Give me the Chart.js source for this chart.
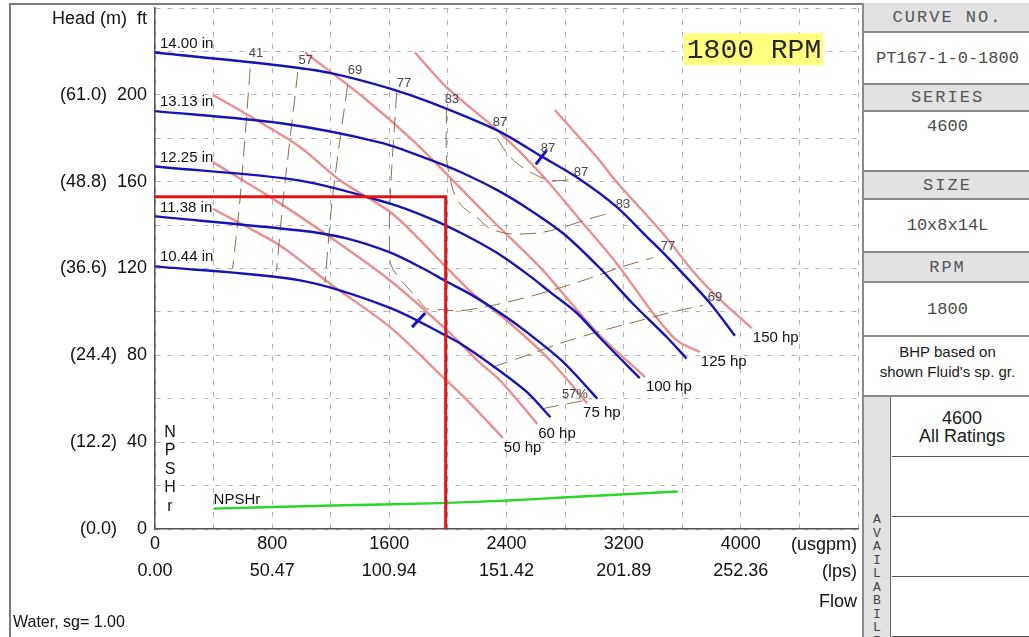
<!DOCTYPE html>
<html lang="en">
<head>
<meta charset="UTF-8">
<title>Pump Curve 4600 10x8x14L 1800 RPM</title>
<script src="https://cdn.jsdelivr.net/npm/chart.js"></script>
<style>
  html, body { margin: 0; padding: 0; background: #fff; }
  #page { position: relative; width: 1029px; height: 637px; overflow: hidden;
          font-family: "Liberation Sans", Arial, sans-serif; }
  #curve { position: absolute; left: 0; top: 0; }
  #frame { position: absolute; left: 9px; top: 3px; width: 1040px; height: 660px;
           border-left: 2px solid #7c7c7c; border-top: 2px solid #7c7c7c; pointer-events: none; }
  #side { position: absolute; left: 862px; top: 3px; width: 180px; height: 640px;
          border-left: 2px solid #8a8a8a; background: #fff; }
  .cell { position: absolute; left: 0; width: 167px; box-sizing: border-box;
          border-bottom: 2px solid #8a8a8a; display: flex; justify-content: center; align-items: center;
          font-family: "Liberation Mono", "Courier New", monospace; font-size: 17px; color: #4a4a4a; }
  .hd { background: #e2e2e2; letter-spacing: 2px; color: #555; }
  .note { font-family: "Liberation Sans", Arial, sans-serif; font-size: 15px; color: #1a1a1a;
          text-align: center; line-height: 20px; align-items: flex-start; padding-top: 5px; letter-spacing: 0; }
  #avail { position: absolute; left: 0; top: 394px; width: 27px; height: 260px; background: #e2e2e2;
           border-right: 1px solid #666; box-sizing: border-box; text-align: center;
           font-family: "Liberation Mono", "Courier New", monospace; font-size: 13px; line-height: 13.5px;
           color: #444; padding-top: 116px; }
  .rate { position: absolute; left: 28px; width: 140px; box-sizing: border-box; border-bottom: 1px solid #555;
          text-align: center; font-family: "Liberation Sans", Arial, sans-serif; font-size: 18px;
          line-height: 18px; color: #1a1a1a; }
</style>
</head>
<body>
<div id="page">
  <canvas id="curve" width="1029" height="637"></canvas>
  <div id="frame"></div>
  <div id="side">
    <div class="cell hd" style="top:0;height:30px">CURVE NO.</div>
    <div class="cell" style="top:30px;height:52px">PT167-1-0-1800</div>
    <div class="cell hd" style="top:82px;height:27px">SERIES</div>
    <div class="cell" style="top:109px;height:60px;align-items:flex-start;padding-top:5px">4600</div>
    <div class="cell hd" style="top:169px;height:28px">SIZE</div>
    <div class="cell" style="top:197px;height:53px">10x8x14L</div>
    <div class="cell hd" style="top:250px;height:30px">RPM</div>
    <div class="cell" style="top:280px;height:54px">1800</div>
    <div class="cell note" style="top:334px;height:60px">BHP based on<br>shown Fluid's sp. gr.</div>
    <div id="avail">A<br>V<br>A<br>I<br>L<br>A<br>B<br>I<br>L<br>I<br>T<br>Y</div>
    <div class="rate" style="top:394px;height:60px;padding-top:12px">4600<br>All Ratings</div>
    <div class="rate" style="top:454px;height:60px"></div>
    <div class="rate" style="top:514px;height:60px"></div>
    <div class="rate" style="top:574px;height:60px"></div>
  </div>
</div>

<script>
  // axis ticks
  const flowTicks = [0, 800, 1600, 2400, 3200, 4000];          // usgpm
  const lpsTicks = ['0.00', '50.47', '100.94', '151.42', '201.89', '252.36'];
  const headTicks = [0, 40, 80, 120, 160, 200];                // ft
  const headMetres = ['(0.0)', '(12.2)', '(24.4)', '(36.6)', '(48.8)', '(61.0)'];

  // impeller trims, [usgpm, ft]
  const trimSizes = ['14.00', '13.13', '12.25', '11.38', '10.44'];
  const trim1400 = [[0, 219.5], [850, 213.5], [1200, 210], [1600, 203], [1880, 196.5], [2340, 183.5], [2630, 172], [2880, 162], [3150, 148.5], [3360, 134.5], [3480, 126.5], [3600, 118], [3790, 104], [3960, 89]];
  const trim1313 = [[0, 192.5], [850, 187], [1540, 178], [1880, 170], [2100, 164], [2340, 156], [2560, 147], [2790, 136], [3040, 120], [3260, 104], [3500, 88], [3630, 78.5]];
  const trim1225 = [[0, 167], [990, 160.5], [1600, 150], [1880, 143], [2100, 136], [2340, 127], [2560, 116.5], [2700, 109], [2880, 99.5], [3040, 88], [3170, 79], [3310, 69.5]];
  const trim1138 = [[0, 144], [990, 137.5], [1300, 134], [1600, 127.5], [1830, 120], [1990, 114], [2170, 107.5], [2400, 97.5], [2580, 88.5], [2770, 78], [2900, 69], [3020, 60]];
  const trim1044 = [[0, 121], [990, 114.5], [1600, 102], [1990, 89], [2130, 83.5], [2350, 73], [2540, 63], [2700, 51.5]];

  // best efficiency marks on the largest and smallest trims
  const bep1400 = [[2600, 168], [2675, 174.5]];
  const bep1044 = [[1755, 93], [1845, 99.5]];

  // motor power lines
  const hpRatings = [150, 125, 100, 75, 60, 50];
  const hp150 = [[2730, 193], [3020, 171], [3150, 160], [3470, 136], [3670, 119], [3860, 105.5], [4075, 92.5]];
  const hp125 = [[1775, 219.5], [1990, 203.5], [2340, 183.5], [2630, 164], [2920, 141], [3150, 122.5], [3400, 99.5], [3560, 87], [3720, 81.5]];
  const hp100 = [[1025, 219.5], [1420, 199], [1760, 179], [2035, 160.5], [2305, 142], [2630, 120.5], [2855, 103], [3040, 89], [3345, 70]];
  const hp75 = [[395, 200], [715, 187.5], [990, 176], [1265, 160.5], [1625, 145], [1990, 120.5], [2170, 108.5], [2420, 95], [2700, 77.5], [2950, 58]];
  const hp60 = [[395, 169], [820, 151.5], [1195, 134.5], [1605, 114.5], [1995, 91.5], [2220, 76.5], [2355, 68.5], [2610, 48.5]];
  const hp50 = [[395, 147.5], [855, 130.5], [1195, 113], [1605, 93], [1965, 70], [2150, 58], [2375, 42]];

  // iso-efficiency contours (%)
  const eff41 = [[650, 212], [580, 151.5], [530, 120]];
  const eff57a = [[975, 210.5], [875, 151.5], [830, 119]];
  const eff57b = [[2650, 55.5], [2970, 59.7]];
  const eff69a = [[1315, 204.5], [1215, 154.5], [1160, 113.5]];
  const eff69b = [[2305, 74.5], [2580, 81], [2765, 85.5], [3060, 91.5], [3310, 96], [3535, 100], [3740, 103]];
  const eff77 = [[1650, 201], [1605, 151.5], [1605, 123.5], [1640, 118], [1720, 111.5], [1775, 107.5], [1855, 101.5], [1965, 101], [2080, 100.5], [2305, 103], [2580, 107.5], [2785, 111.5], [2990, 116], [3175, 120.5], [3400, 125]];
  const eff83 = [[1990, 194], [1990, 171], [2015, 162], [2035, 156], [2080, 150], [2115, 147.5], [2200, 143.5], [2285, 138.5], [2425, 136], [2630, 136.5], [2785, 139], [2970, 143], [3105, 145.5]];
  const eff87 = [[2335, 180], [2405, 173], [2470, 168.5], [2560, 164.5], [2675, 161], [2785, 160.5], [2855, 161.5]];
  const effTags = ['41', '57', '69', '77', '83', '87', '87', '87', '83', '77', '69', '57%'];

  // NPSH required
  const npshr = [[400, 9.4], [1215, 10.8], [1880, 11.8], [2405, 13.1], [2785, 14.5], [3570, 17.3]];

  // duty point
  const dutyFlow = 1985;
  const dutyHead = 153;

  // where the efficiency numbers sit, [usgpm, ft]
  const effTagAt = [[690, 219], [1030, 216], [1365, 211.3], [1700, 205.3], [2027, 198], [2355, 187.3],
                    [2683, 175.3], [2908, 164.3], [3195, 149.5], [3502, 130.2], [3823, 106.7], [2867, 62]];
  const rpmBadgeAt = [4090, 221];

  const SANS = '"Liberation Sans", Arial, sans-serif';
  const MONO = '"Liberation Mono", "Courier New", monospace';

  const trims = [trim1400, trim1313, trim1225, trim1138, trim1044];
  const hpLines = [hp150, hp125, hp100, hp75, hp60, hp50];
  const effLines = [eff41, eff57a, eff57b, eff69a, eff69b, eff77, eff83, eff87];

  function series(points, color, width, extra) {
    return Object.assign({
      data: points.map(p => ({ x: p[0], y: p[1] })),
      showLine: true,
      borderColor: color,
      borderWidth: width,
      pointRadius: 0,
      tension: 0.3,
      fill: false
    }, extra || {});
  }

  // first dataset ends up on top
  const datasets = [
    series([[0, dutyHead], [dutyFlow, dutyHead], [dutyFlow, 0]], '#e11414', 3, { tension: 0, clip: 4 }),
    series(bep1400, '#1414c8', 3, { tension: 0 }),
    series(bep1044, '#1414c8', 3, { tension: 0 }),
    ...trims.map(t => series(t, '#1515b4', 2.4)),
    ...effLines.map(e => series(e, '#8c6d48', 1, { borderDash: [16, 8] })),
    ...hpLines.map(h => series(h, '#ec8e8e', 2.4)),
    series(npshr, '#2bd62b', 2.4)
  ];

  const chartText = {
    id: 'chartText',
    afterDatasetsDraw(chart) {
      const { ctx, chartArea, scales: { x, y } } = chart;
      const px = v => x.getPixelForValue(v);
      const py = v => y.getPixelForValue(v);
      ctx.save();
      ctx.textBaseline = 'middle';
      ctx.fillStyle = '#111';

      // trim diameters above each head curve
      ctx.font = '15px ' + SANS;
      ctx.textAlign = 'left';
      trims.forEach((t, i) => ctx.fillText(trimSizes[i] + ' in', px(t[0][0]) + 5, py(t[0][1]) - 9));

      // motor ratings at the end of the power lines
      hpLines.forEach((h, i) => {
        const end = h[h.length - 1];
        ctx.fillText(hpRatings[i] + ' hp', px(end[0]) + (hpRatings[i] === 75 ? -4 : 1), py(end[1]) + 10);
      });

      ctx.fillText('NPSHr', px(npshr[0][0]), py(npshr[0][1]) - 9);

      // vertical NPSHr caption
      ctx.font = '16px ' + SANS;
      ctx.textAlign = 'center';
      'NPSHr'.split('').forEach((c, i) => ctx.fillText(c, chartArea.left + 15, py(44.5) + i * 18.5));

      // efficiency numbers
      ctx.font = '13px ' + SANS;
      ctx.fillStyle = '#474747';
      effTags.forEach((t, i) => ctx.fillText(t, px(effTagAt[i][0]), py(effTagAt[i][1])));

      // speed badge
      ctx.font = '28px ' + MONO;
      const label = '1800 RPM';
      const w = ctx.measureText(label).width;
      const cx = px(rpmBadgeAt[0]), cy = py(rpmBadgeAt[1]);
      ctx.fillStyle = '#ffff80';
      ctx.fillRect(cx - w / 2 - 3, cy - 16, w + 5, 32);
      ctx.fillStyle = '#262626';
      ctx.fillText(label, cx, cy + 1);

      // axis captions
      ctx.font = '18px ' + SANS;
      ctx.fillStyle = '#111';
      ctx.textAlign = 'right';
      ctx.fillText('Head (m)  ft', chartArea.left - 8, 19);
      ctx.fillText('(usgpm)', chartArea.right - 1, chartArea.bottom + 16);
      ctx.fillText('(lps)', chartArea.right - 1, chartArea.bottom + 43);
      ctx.fillText('Flow', chartArea.right - 1, chartArea.bottom + 73);
      ctx.font = '16px ' + SANS;
      ctx.textAlign = 'left';
      ctx.fillText('Water, sg= 1.00', 13, 623);
      ctx.restore();
    }
  };

  new Chart(document.getElementById('curve'), {
    type: 'scatter',
    data: { datasets },
    options: {
      responsive: false,
      animation: false,
      layout: { padding: { left: 9, top: 8, right: 171, bottom: 0 } },
      plugins: { legend: { display: false }, tooltip: { enabled: false } },
      scales: {
        x: {
          type: 'linear', min: 0, max: 4800,
          grid: { color: '#b2b2b2', lineWidth: 1, drawTicks: false },
          border: { color: '#555', width: 1.5, dash: [5, 7] },
          ticks: {
            stepSize: 400, autoSkip: false, maxRotation: 0, padding: 2, color: '#111',
            font: { family: SANS, size: 18, lineHeight: 1.5 },
            callback: v => {
              const i = flowTicks.indexOf(v);
              return i >= 0 ? [String(v), lpsTicks[i]] : '';
            }
          },
          afterFit: s => { s.height = 108; s.paddingLeft = 0; s.paddingRight = 0; }
        },
        y: {
          type: 'linear', min: 0, max: 240,
          grid: { color: '#b2b2b2', lineWidth: 1, drawTicks: false },
          border: { color: '#555', width: 1.5, dash: [5, 7] },
          ticks: {
            stepSize: 20, autoSkip: false, padding: 8, color: '#111',
            font: { family: SANS, size: 18 },
            callback: v => {
              const i = headTicks.indexOf(v);
              if (i < 0) return '';
              return headMetres[i] + (v === 0 ? '    ' : '  ') + v;
            }
          },
          afterFit: s => { s.width = 146; s.paddingTop = 0; s.paddingBottom = 0; }
        }
      }
    },
    plugins: [chartText]
  });
</script>
</body>
</html>
